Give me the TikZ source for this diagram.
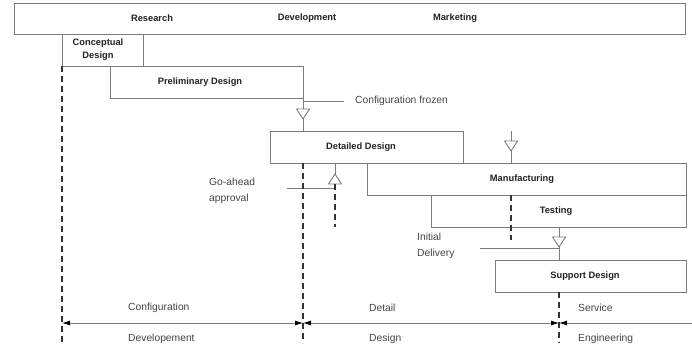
\documentclass[tikz,border=0pt]{standalone}
\usepackage{fontspec}
\setmainfont{Liberation Sans}
\usetikzlibrary{arrows.meta}
\definecolor{boxline}{HTML}{7C7C7C}
\definecolor{inkdark}{HTML}{222222}
\definecolor{inknote}{HTML}{454545}
\definecolor{dashink}{HTML}{333333}
\begin{document}
\begin{tikzpicture}[x=1pt,y=-1pt,
  phasebox/.style={draw=boxline, line width=0.9pt, anchor=north west,
    inner sep=0pt, outer sep=0pt, fill=white},
  boxlabel/.style={text=inkdark, inner sep=0pt,
    font=\fontsize{9.3}{13}\selectfont\bfseries},
  note/.style={text=inknote, inner sep=0pt,
    font=\fontsize{10.3}{15.5}\selectfont},
  link/.style={draw=boxline, line width=0.9pt},
  gate/.style={draw=boxline, line width=0.9pt, fill=white},
  milestone/.style={draw=dashink, line width=1.1pt, dash pattern=on 6pt off 4pt},
  dimline/.style={draw=boxline, line width=0.8pt},
  dimtip/.style={Latex[length=8pt,width=5pt,color=black]}
]
\useasboundingbox[fill=white] (0,0) rectangle (692,348);

% organisation bar
\node[phasebox, minimum width=671pt, minimum height=31pt] (org) at (14,3) {};
\node[boxlabel] (lResearch) at (152,18) {Research};
\node[boxlabel] (lDevelop) at (307,18) {Development};
\node[boxlabel] (lMarket) at (455,18) {Marketing};

% phases
\node[phasebox, minimum width=81pt, minimum height=32pt] (concept) at (62,34) {};
\node[phasebox, minimum width=193pt, minimum height=32pt] (prelim) at (110,66) {};
\node[phasebox, minimum width=193pt, minimum height=32pt] (detail) at (270,131) {};
\node[phasebox, minimum width=319pt, minimum height=32pt] (mfg) at (367,163) {};
\node[phasebox, minimum width=255pt, minimum height=32pt] (test) at (431,195) {};
\node[phasebox, minimum width=191pt, minimum height=32pt] (support) at (495,260) {};

\node[boxlabel, align=center] (lConcept) at (98,50) {Conceptual\\Design};
\node[boxlabel] (lPrelim) at (200,82) {Preliminary Design};
\node[boxlabel] (lDetail) at (361,147) {Detailed Design};
\node[boxlabel] (lMfg) at (522,179) {Manufacturing};
\node[boxlabel] (lTest) at (556,211) {Testing};
\node[boxlabel] (lSupport) at (585,276) {Support Design};

% helper coordinates
\coordinate (frozenEnd) at (344,101);
\coordinate (goX) at (335,0);
\coordinate (goStart) at (287,188);
\coordinate (goDashEnd) at (335,227);
\coordinate (mfgIn) at (511,131);
\coordinate (mfgDashEnd) at (511,240);
\coordinate (tsX) at (559,0);
\coordinate (deliveryStart) at (480,248);
\coordinate (floor) at (0,343);
\coordinate (d0) at (62,323);
\coordinate (d1) at (303,323);
\coordinate (d2) at (559,323);
\coordinate (d3) at (692,323);

% configuration frozen gate
\draw[link] (prelim.south east) -- (prelim.south east |- detail.north);
\draw[link] (prelim.south east |- frozenEnd) -- (frozenEnd);
\draw[gate] (303,119) -- ++(-6.5,-10) -- ++(13,0) -- cycle;
\node[note, anchor=west] (lFrozen) at (355,101) {Configuration frozen};

% go-ahead approval gate
\draw[link] (detail.south -| goX) -- (335,174);
\draw[link] (goStart) -- (goStart -| goX);
\draw[gate] (335,174) -- ++(-6.5,10) -- ++(13,0) -- cycle;
\draw[milestone] (335,184) -- (goDashEnd);
\node[note, anchor=west, align=left] (lGo) at (209,191) {Go-ahead\\approval};

% manufacturing release gate
\draw[link] (mfgIn) -- (mfgIn |- mfg.north);
\draw[gate] (511,151) -- ++(-6.5,-10) -- ++(13,0) -- cycle;
\draw[milestone] (mfgIn |- mfg.south) -- (mfgDashEnd);

% initial delivery gate
\draw[link] (test.south -| tsX) -- (support.north -| tsX);
\draw[link] (deliveryStart) -- (deliveryStart -| tsX);
\draw[gate] (559,247) -- ++(-6.5,-10) -- ++(13,0) -- cycle;
\node[note, anchor=west, align=left] (lDelivery) at (417,246) {Initial\\Delivery};

% phase boundaries
\draw[milestone] (concept.south west) -- (concept.south west |- floor);
\draw[milestone] (prelim.south east |- detail.south) -- (prelim.south east |- floor);
\draw[milestone] (support.south -| tsX) -- (tsX |- floor);

% dimension line
\draw[dimline, {Latex[length=8pt,width=5pt,color=black]}-{Latex[length=8pt,width=5pt,color=black]}] (d0) -- (d1);
\draw[dimline, {Latex[length=8pt,width=5pt,color=black]}-{Latex[length=8pt,width=5pt,color=black]}] (d1) -- (d2);
\draw[dimline, {Latex[length=8pt,width=5pt,color=black]}-] (d2) -- (d3);

\node[note, anchor=west] (lCfg) at (128,308) {Configuration};
\node[note, anchor=west] (lDev) at (128,339) {Developement};
\node[note, anchor=west] (lDet) at (369,308) {Detail};
\node[note, anchor=west] (lDes) at (369,339) {Design};
\node[note, anchor=west] (lSvc) at (578,308) {Service};
\node[note, anchor=west] (lEng) at (578,339) {Engineering};
\end{tikzpicture}
\end{document}
